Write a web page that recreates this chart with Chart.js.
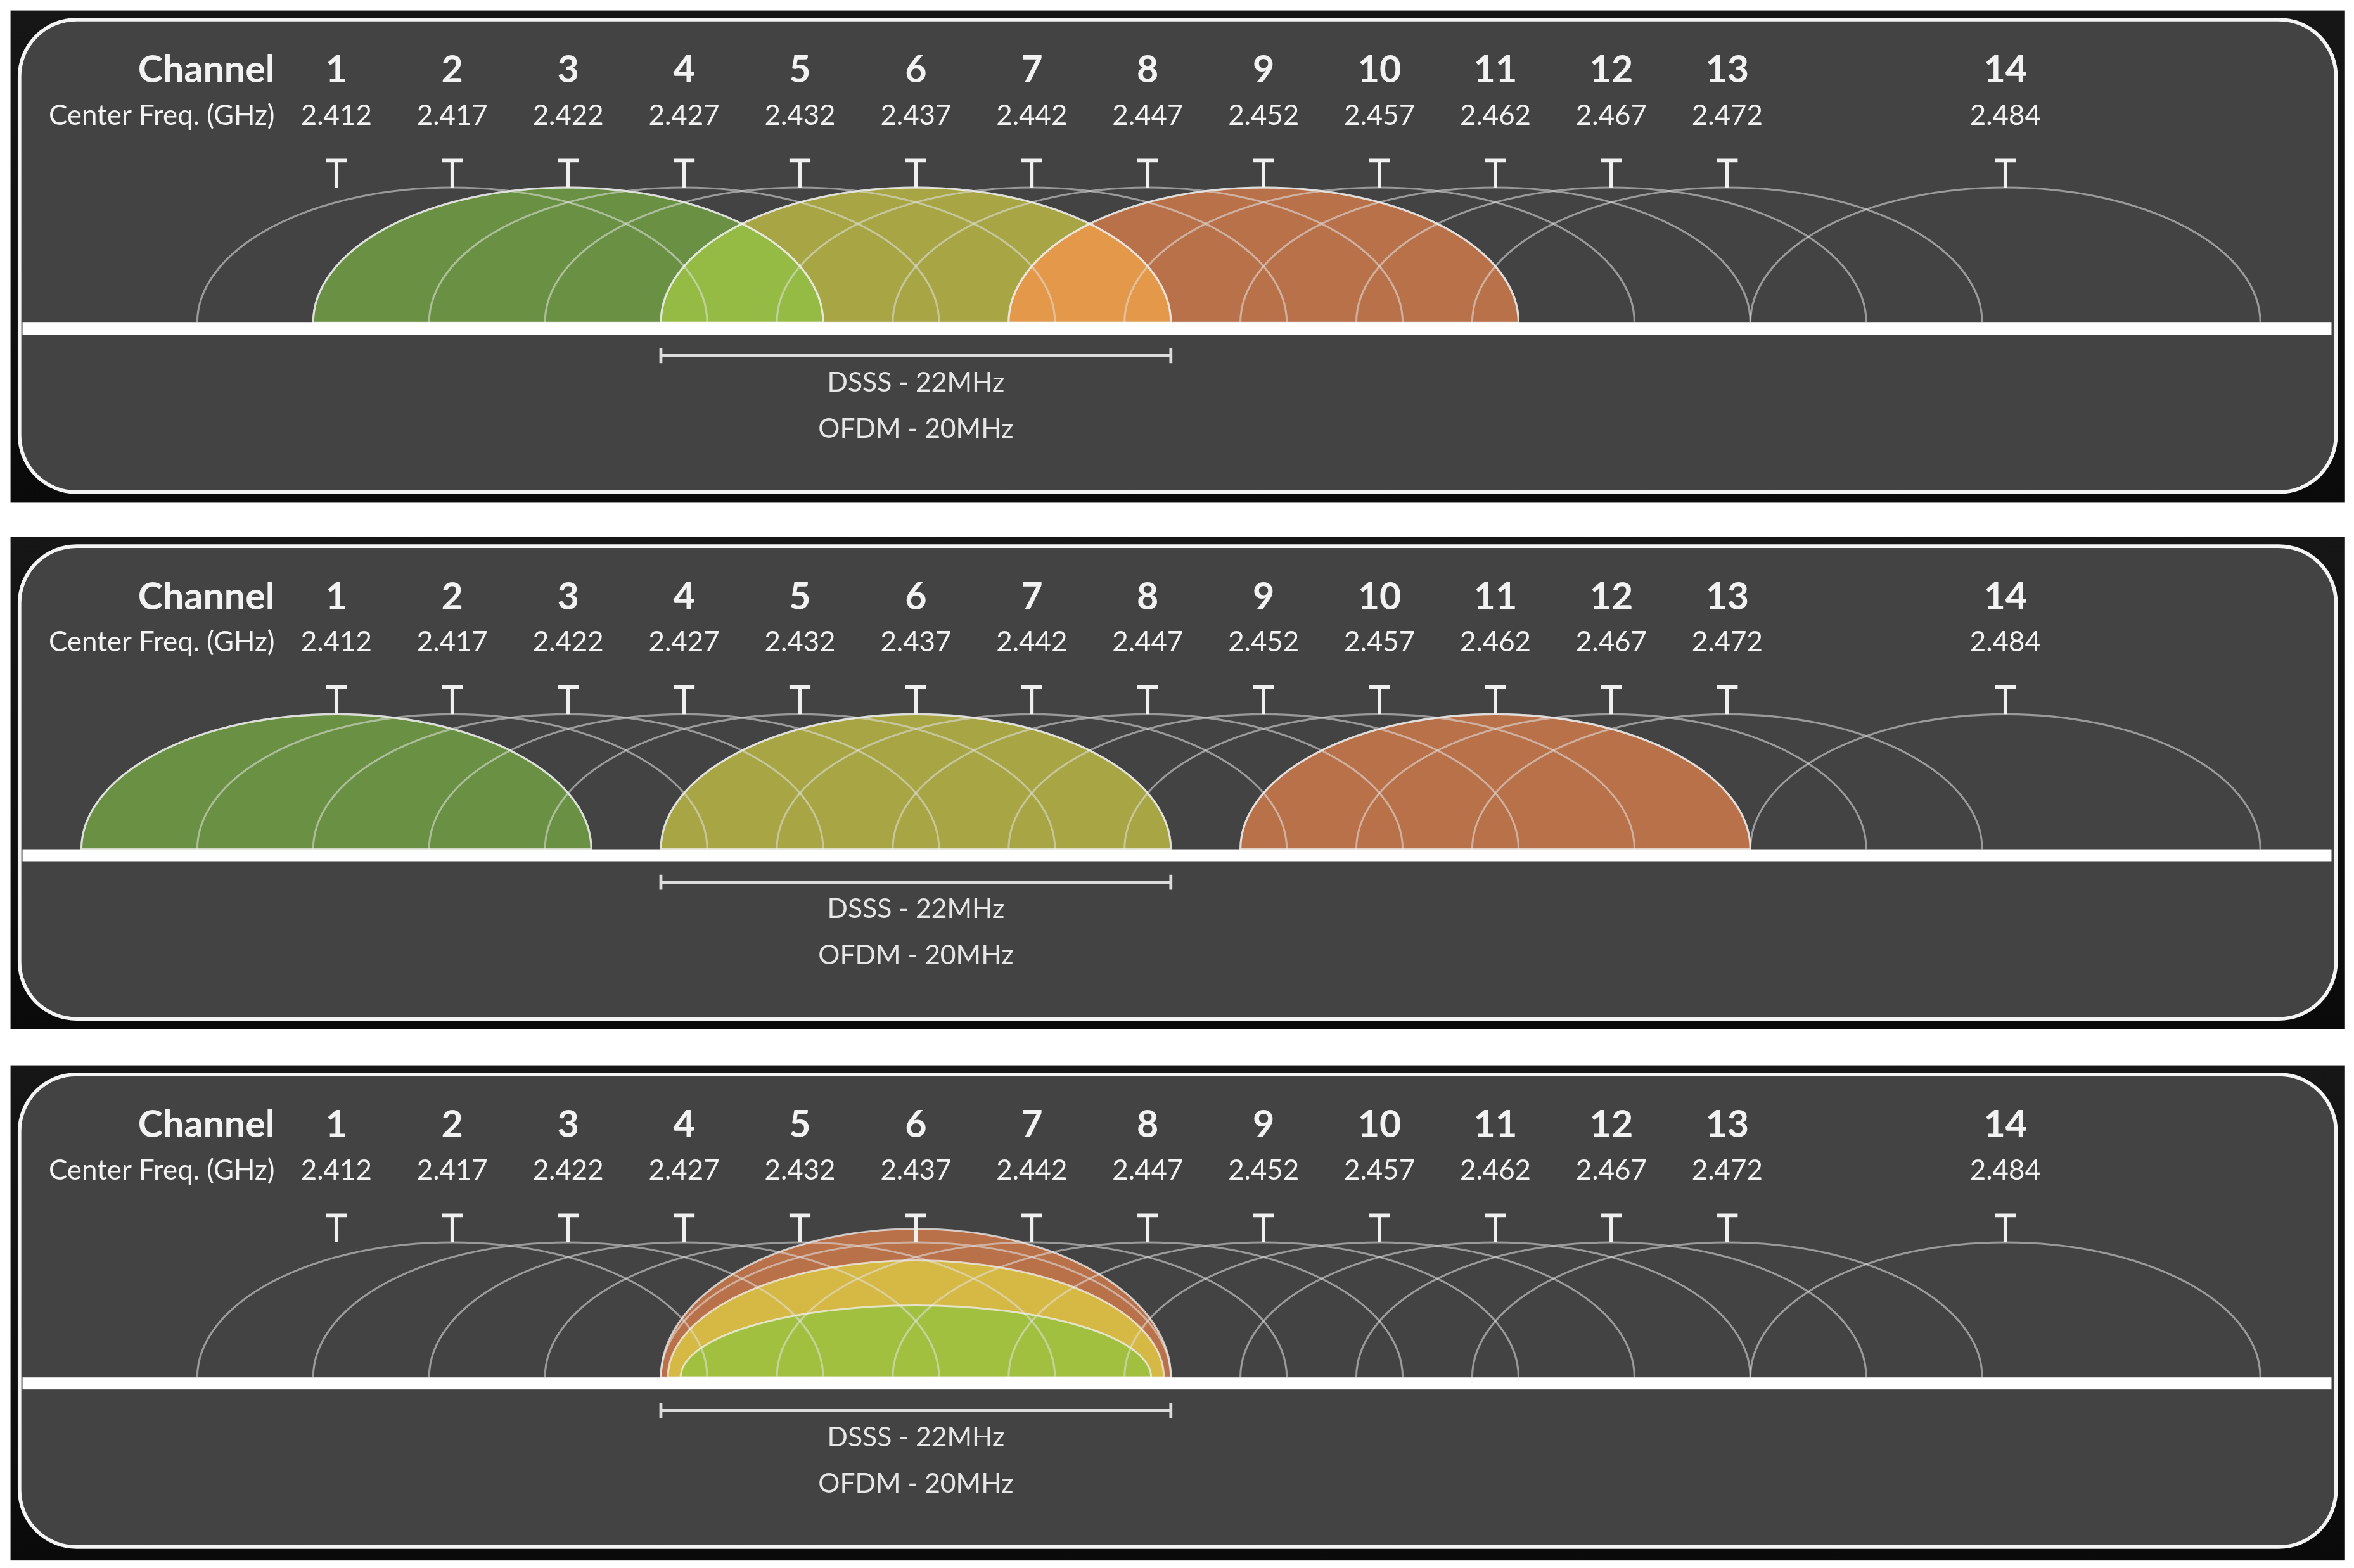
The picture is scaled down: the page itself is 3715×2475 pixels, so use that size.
<!DOCTYPE html>
<html><head><meta charset="utf-8">
<script src="https://cdn.jsdelivr.net/npm/chart.js@4/dist/chart.umd.min.js"></script>
<style>html,body{margin:0;padding:0;background:#fff}#wrap{width:3715px;height:2475px;position:relative}</style>
</head><body><div id="wrap"><canvas id="c"></canvas></div>
<script>
// ---- data ----
const channels = [1,2,3,4,5,6,7,8,9,10,11,12,13,14];
const freqs = [2412,2417,2422,2427,2432,2437,2442,2447,2452,2457,2462,2467,2472,2484];
const freqLabels = ["2.412","2.417","2.422","2.427","2.432","2.437","2.442","2.447","2.452","2.457","2.462","2.467","2.472","2.484"];
const outlineChannels = [
  [2,3,4,5,6,7,8,9,10,11,12,13,14],
  [1,2,3,4,5,6,7,8,9,10,11,12,13,14],
  [2,3,4,5,6,7,8,9,10,11,12,13,14]
];
const fillChannels = [[3,6,9],[1,6,11],[6,6,6]];
const fillColors = [
  ["#6a9143","#a7a544","#b9714a"],
  ["#6a9143","#a7a544","#b9714a"],
  ["#b9714a","#d5b944","#a2c040"]
];
const fillWidthsMHz = [[22,22,22],[22,22,22],[22,21.4,20.3]];
const fillHeights = [[90,90,90],[90,90,90],[99,78,48]];
const overlapColors = [["#95bb44","#e3984a"],[null,null],[null,null]];
const bandMHz = 22;
const bandHeight = 90;
const dsssLabel = "DSSS - 22MHz";
const ofdmLabel = "OFDM - 20MHz";

const S = 3715/1568;
const panelTops = [7,358,710], panelBottoms=[335,686,1040];

function idx(ch){return channels.indexOf(ch);}

const drawPlugin = {
  id:'wifi',
  afterDraw(chart){
    const ctx = chart.ctx, xs = chart.scales.x, ys = chart.scales.y;
    const X = f => xs.getPixelForValue(f);
    const Y = v => ys.getPixelForValue(v);
    ctx.save();
    panelTops.forEach((top,p)=>{
      const bot = panelBottoms[p];
      const g = ctx.createLinearGradient(0,Y(top),0,Y(bot));
      g.addColorStop(0,'#161616');g.addColorStop(1,'#0a0a0a');
      ctx.fillStyle=g; ctx.fillRect(7*S,Y(top),1555*S,Y(bot)-Y(top));
      const rx0=13*S, rx1=1556*S, ry0=Y(top+6), ry1=Y(top+321), r=38*S;
      ctx.beginPath(); ctx.roundRect(rx0,ry0,rx1-rx0,ry1-ry0,r);
      ctx.fillStyle='#434343'; ctx.fill();
      ctx.lineWidth=2.4*S; ctx.strokeStyle='#f4f4f4'; ctx.stroke();
      const base = Y(top+208);
      ctx.fillStyle='#f2f2f2'; ctx.textBaseline='middle';
      ctx.font='bold '+(25*S)+'px Lato'; ctx.textAlign='right';
      ctx.fillText('Channel',183*S,Y(top+40));
      ctx.font=(18.5*S)+'px Lato';
      ctx.fillText('Center Freq. (GHz)',183*S,Y(top+70));
      ctx.textAlign='center';
      channels.forEach((c,i)=>{
        ctx.font='bold '+(25*S)+'px Lato';
        ctx.fillText(String(c),X(freqs[i]),Y(top+40));
        ctx.font=(18.5*S)+'px Lato';
        ctx.fillText(freqLabels[i],X(freqs[i]),Y(top+70));
      });
      const shapes = fillChannels[p].map((ch,k)=>({cx:X(freqs[idx(ch)]),rx:(X(freqs[idx(ch)]+fillWidthsMHz[p][k]/2)-X(freqs[idx(ch)])),ry:base-Y(top+208-fillHeights[p][k]),col:fillColors[p][k]}));
      const path=(s)=>{ctx.beginPath();ctx.ellipse(s.cx,base,s.rx,s.ry,0,Math.PI,2*Math.PI);ctx.closePath();};
      shapes.forEach(s=>{path(s);ctx.fillStyle=s.col;ctx.fill();});
      for(let k=0;k<2;k++){
        const oc=overlapColors[p][k]; if(!oc) continue;
        ctx.save(); path(shapes[k]); ctx.clip(); path(shapes[k+1]); ctx.fillStyle=oc; ctx.fill(); ctx.restore();
      }
      ctx.lineWidth=1.3*S;
      outlineChannels[p].forEach(ch=>{
        const cx=X(freqs[idx(ch)]), rx=X(freqs[idx(ch)]+bandMHz/2)-cx, ry=base-Y(top+208-bandHeight);
        ctx.beginPath();ctx.ellipse(cx,base,rx,ry,0,Math.PI,2*Math.PI);
        ctx.strokeStyle='rgba(225,225,225,0.55)';ctx.stroke();
      });
      shapes.forEach(s=>{path(s);ctx.strokeStyle='rgba(240,240,240,0.75)';ctx.stroke();});
      ctx.strokeStyle='#f0f0f0'; ctx.lineWidth=2.4*S;
      freqs.forEach(f=>{
        const x=X(f);
        ctx.beginPath();ctx.moveTo(x,Y(top+100));ctx.lineTo(x,Y(top+118));
        ctx.moveTo(x-7*S,Y(top+100));ctx.lineTo(x+7*S,Y(top+100));ctx.stroke();
      });
      ctx.fillStyle='#ffffff'; ctx.fillRect(15*S,base,1538*S,Y(top+216)-base);
      const c6=freqs[idx(6)];
      const bx0=X(c6-bandMHz/2), bx1=X(c6+bandMHz/2), by=Y(top+230);
      ctx.strokeStyle='#dcdcdc'; ctx.lineWidth=2*S;
      ctx.beginPath();ctx.moveTo(bx0,by);ctx.lineTo(bx1,by);
      ctx.moveTo(bx0,by-5*S);ctx.lineTo(bx0,by+5*S);ctx.moveTo(bx1,by-5*S);ctx.lineTo(bx1,by+5*S);ctx.stroke();
      ctx.fillStyle='#e6e6e6'; ctx.font=(18*S)+'px Lato'; ctx.textAlign='center';
      ctx.fillText(dsssLabel,X(c6),Y(top+248));
      ctx.fillText(ofdmLabel,X(c6),Y(top+279));
    });
    ctx.restore();
  }
};

new Chart(document.getElementById('c'),{
  type:'scatter',
  data:{datasets:[{data:[]}]},
  options:{
    responsive:true,maintainAspectRatio:false,animation:false,
    layout:{padding:0},
    plugins:{legend:{display:false},tooltip:{enabled:false}},
    scales:{
      x:{type:'linear',min:2397.49,max:2499.04,display:false},
      y:{type:'linear',min:0,max:1045,reverse:true,display:false}
    }
  },
  plugins:[drawPlugin]
});
</script></body></html>
